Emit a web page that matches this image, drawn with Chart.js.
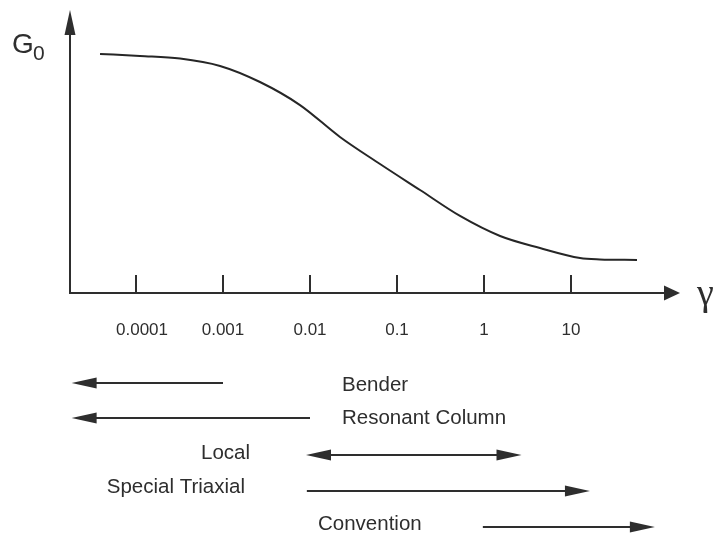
<!DOCTYPE html>
<html>
<head>
<meta charset="utf-8">
<style>
  html, body { margin: 0; padding: 0; background: #ffffff; }
  #wrap { width: 713px; height: 537px; position: relative; }
  canvas { display: block; }
</style>
<script src="https://cdn.jsdelivr.net/npm/chart.js@4/dist/chart.umd.min.js"></script>
</head>
<body>
<div id="wrap"><canvas id="c" width="713" height="537"></canvas></div>
<script>
// Shear strain (γ) and normalised stiffness G/G0 along the degradation curve
const strain  = [3.86e-5, 1.11e-4, 3.21e-4, 9.25e-4, 2.66e-3, 7.68e-3, 0.0221, 0.0638, 0.184, 0.530, 1.53, 4.40, 12.7, 21.5, 57.4];
const modulus = [0.996, 0.9875, 0.977, 0.946, 0.879, 0.783, 0.650, 0.5375, 0.429, 0.321, 0.2375, 0.1875, 0.146, 0.140, 0.1375];

// Decade tick positions and their labels
const tickValues = [0.0001, 0.001, 0.01, 0.1, 1, 10];
const tickLabels = ['0.0001', '0.001', '0.01', '0.1', '1', '10'];

// Strain ranges covered by each test method
const methods   = ['Bender', 'Resonant Column', 'Local', 'Special Triaxial', 'Convention'];
const rangeLow  = [1.82e-5, 1.82e-5, 0.009, 0.0092, 0.97];
const rangeHigh = [0.001, 0.01, 2.7, 16.5, 92];
const heads     = ['low', 'low', 'both', 'high', 'high'];

const INK = '#2e2e2e';
const SANS = '"Liberation Sans", Arial, sans-serif';

function arrowHead(ctx, tipX, tipY, dir, len, half) {
  // dir: 'left' | 'right' | 'up'
  ctx.beginPath();
  if (dir === 'left') {
    ctx.moveTo(tipX, tipY);
    ctx.lineTo(tipX + len, tipY - half);
    ctx.lineTo(tipX + len, tipY + half);
  } else if (dir === 'right') {
    ctx.moveTo(tipX, tipY);
    ctx.lineTo(tipX - len, tipY - half);
    ctx.lineTo(tipX - len, tipY + half);
  } else {
    ctx.moveTo(tipX, tipY);
    ctx.lineTo(tipX - half, tipY + len);
    ctx.lineTo(tipX + half, tipY + len);
  }
  ctx.closePath();
  ctx.fill();
}

const axesPlugin = {
  id: 'sketchAxes',
  afterDraw(chart) {
    const ctx = chart.ctx;
    const xs = chart.scales.x, ys = chart.scales.y;
    const area = chart.chartArea;
    const x0 = area.left, y0 = ys.getPixelForValue(0);
    ctx.save();
    ctx.strokeStyle = INK;
    ctx.fillStyle = INK;
    ctx.lineWidth = 2;
    ctx.lineCap = 'butt';

    // vertical axis with arrow
    ctx.beginPath();
    ctx.moveTo(x0, y0 + 1);
    ctx.lineTo(x0, area.top + 20);
    ctx.stroke();
    arrowHead(ctx, x0, area.top, 'up', 25, 5.5);

    // horizontal axis with arrow
    ctx.beginPath();
    ctx.moveTo(x0 - 1, y0);
    ctx.lineTo(area.right - 12, y0);
    ctx.stroke();
    arrowHead(ctx, area.right, y0, 'right', 16, 7.5);

    // decade ticks and labels
    ctx.font = '17px ' + SANS;
    ctx.textAlign = 'center';
    ctx.textBaseline = 'middle';
    tickValues.forEach((v, i) => {
      const px = Math.round(xs.getPixelForValue(v));
      ctx.beginPath();
      ctx.moveTo(px, y0);
      ctx.lineTo(px, y0 - 18);
      ctx.stroke();
      ctx.fillText(tickLabels[i], px + (i === 0 ? 6 : 0), y0 + 37);
    });

    // axis titles
    ctx.textAlign = 'left';
    ctx.textBaseline = 'alphabetic';
    ctx.font = '28px ' + SANS;
    ctx.fillText('G', 12, 53);
    ctx.font = '21px ' + SANS;
    ctx.fillText('0', 33, 60);
    ctx.font = '38px "Liberation Serif", "Times New Roman", serif';
    ctx.fillText('γ', 697, 305);

    // method ranges
    const rowY   = [383, 418, 455, 491, 527];
    const labelX = [342, 342, 250, 245, 318];
    const labelY = [391, 424, 459, 493, 530];
    const align  = ['left', 'left', 'right', 'right', 'left'];
    ctx.font = '20.5px ' + SANS;
    methods.forEach((m, i) => {
      const a = xs.getPixelForValue(rangeLow[i]);
      const b = xs.getPixelForValue(rangeHigh[i]);
      const y = rowY[i];
      const h = heads[i];
      const la = (h === 'low' || h === 'both') ? a + 20 : a;
      const lb = (h === 'high' || h === 'both') ? b - 20 : b;
      ctx.beginPath();
      ctx.moveTo(la, y);
      ctx.lineTo(lb, y);
      ctx.stroke();
      if (h === 'low' || h === 'both') arrowHead(ctx, a, y, 'left', 25, 5.5);
      if (h === 'high' || h === 'both') arrowHead(ctx, b, y, 'right', 25, 5.5);
      ctx.textAlign = align[i];
      ctx.fillText(m, labelX[i], labelY[i]);
    });
    ctx.restore();
  }
};

new Chart(document.getElementById('c'), {
  type: 'line',
  data: {
    datasets: [{
      data: strain.map((s, i) => ({ x: s, y: modulus[i] })),
      borderColor: '#262626',
      borderWidth: 2,
      pointRadius: 0,
      fill: false,
      cubicInterpolationMode: 'monotone',
      clip: false
    }]
  },
  options: {
    responsive: false,
    devicePixelRatio: 1,
    animation: false,
    layout: { padding: { left: 70, right: 33, top: 10, bottom: 244 } },
    plugins: { legend: { display: false }, tooltip: { enabled: false } },
    scales: {
      x: {
        type: 'logarithmic',
        display: false,
        min: Math.pow(10, -4.7586),
        max: Math.pow(10, 2.2529)
      },
      y: {
        type: 'linear',
        display: false,
        min: 0,
        max: 1.179
      }
    }
  },
  plugins: [axesPlugin]
});
</script>
</body>
</html>
